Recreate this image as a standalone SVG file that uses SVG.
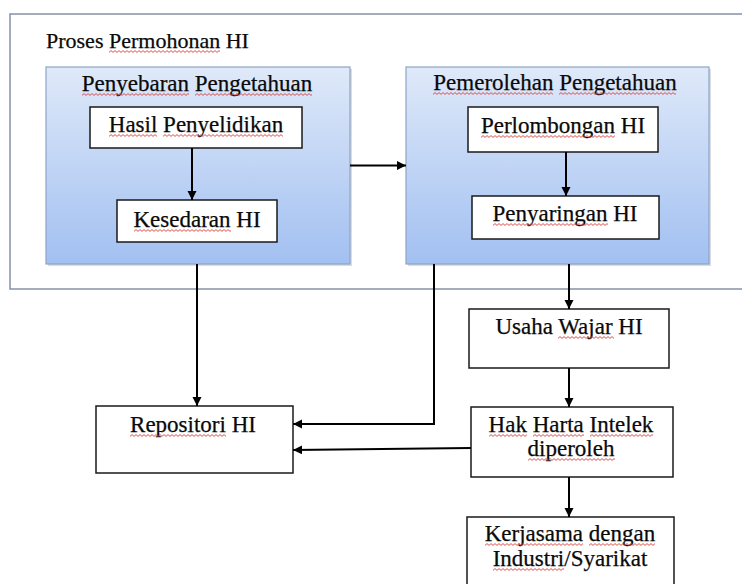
<svg xmlns="http://www.w3.org/2000/svg" width="742" height="584" viewBox="0 0 742 584">
<style>
  text { font-family: "Liberation Serif", "Times New Roman", serif; font-size: 23px; fill: #0a0a0a; stroke: #0a0a0a; stroke-width: 0.25; }
  .c { text-anchor: middle; }
  .frame { fill: #ffffff; stroke: #8593a3; stroke-width: 1.5; }
  .blue { fill: url(#gBlue); stroke: #8ea4c6; stroke-width: 1.2; }
  .shadow { fill: #b9c0cb; opacity: 0.55; }
  .box { fill: #ffffff; stroke: #1a1a1a; stroke-width: 1.5; }
  .conn { fill: none; stroke: #000; stroke-width: 2; marker-end: url(#arr); }
  .sq { fill: url(#wave); }
</style>
<defs>
  <linearGradient id="gBlue" x1="0" y1="0" x2="0" y2="1">
    <stop offset="0" stop-color="#dfe9f9"/>
    <stop offset="1" stop-color="#a2c0f1"/>
  </linearGradient>
  <pattern id="wave" patternUnits="userSpaceOnUse" width="4" height="3">
    <path d="M0,2.4 L2,0.6 L4,2.4" fill="none" stroke="#d8403a" stroke-width="0.9"/>
  </pattern>
  <marker id="arr" markerUnits="userSpaceOnUse" markerWidth="12" markerHeight="12" refX="9" refY="4.5" orient="auto">
    <path d="M0,0 L9,4.5 L0,9 Z" fill="#000"/>
  </marker>
</defs>

<rect width="742" height="584" fill="#ffffff"/>

<g id="proses-permohonan">
  <rect class="frame" x="10" y="14" width="745" height="275"/>
  <text x="46" y="48" style="font-size:22px"><tspan>Proses</tspan> <tspan>Permohonan</tspan> <tspan>HI</tspan></text>
  <rect class="sq" transform="translate(109,50)" width="111" height="3"/>
</g>

<g id="penyebaran-pengetahuan">
  <rect class="shadow" x="48" y="69" width="304" height="197"/>
  <rect class="blue" x="46" y="67" width="304" height="197"/>
  <text class="c" x="197" y="91"><tspan>Penyebaran</tspan> <tspan>Pengetahuan</tspan></text>
  <rect class="sq" transform="translate(82,93)" width="107" height="3"/>
  <rect class="sq" transform="translate(195,93)" width="117" height="3"/>
</g>

<g id="pemerolehan-pengetahuan">
  <rect class="shadow" x="408" y="69" width="303" height="197"/>
  <rect class="blue" x="406" y="67" width="303" height="197"/>
  <text class="c" x="555" y="90"><tspan>Pemerolehan</tspan> <tspan>Pengetahuan</tspan></text>
  <rect class="sq" transform="translate(433,92)" width="120" height="3"/>
  <rect class="sq" transform="translate(559,92)" width="117" height="3"/>
</g>

<g id="hasil-penyelidikan">
  <rect class="box" x="90" y="107" width="212" height="41"/>
  <text class="c" x="196" y="132"><tspan>Hasil</tspan> <tspan>Penyelidikan</tspan></text>
  <rect class="sq" transform="translate(109,134)" width="48" height="3"/>
  <rect class="sq" transform="translate(163,134)" width="120" height="3"/>
</g>

<g id="kesedaran-hi">
  <rect class="box" x="117" y="200" width="160" height="42"/>
  <text class="c" x="197" y="227"><tspan>Kesedaran</tspan> <tspan>HI</tspan></text>
  <rect class="sq" transform="translate(134,229)" width="97" height="3"/>
</g>

<g id="perlombongan-hi">
  <rect class="box" x="468" y="107" width="190" height="45"/>
  <text class="c" x="563" y="133"><tspan>Perlombongan</tspan> <tspan>HI</tspan></text>
  <rect class="sq" transform="translate(481,135)" width="134" height="3"/>
</g>

<g id="penyaringan-hi">
  <rect class="box" x="472" y="196" width="187" height="43"/>
  <text class="c" x="565" y="221"><tspan>Penyaringan</tspan> <tspan>HI</tspan></text>
  <rect class="sq" transform="translate(493,223)" width="115" height="3"/>
</g>

<g id="usaha-wajar-hi">
  <rect class="box" x="469" y="309" width="200" height="59"/>
  <text class="c" x="569" y="334"><tspan>Usaha</tspan> <tspan>Wajar</tspan> <tspan>HI</tspan></text>
  <rect class="sq" transform="translate(558,336)" width="56" height="3"/>
</g>

<g id="hak-harta-intelek">
  <rect class="box" x="471" y="407" width="202" height="70"/>
  <text class="c" x="571" y="432"><tspan>Hak</tspan> <tspan>Harta</tspan> <tspan>Intelek</tspan></text>
  <text class="c" x="571" y="456"><tspan>diperoleh</tspan></text>
  <rect class="sq" transform="translate(489,434)" width="38" height="3"/>
  <rect class="sq" transform="translate(533,434)" width="51" height="3"/>
  <rect class="sq" transform="translate(590,434)" width="63" height="3"/>
  <rect class="sq" transform="translate(528,458)" width="87" height="3"/>
</g>

<g id="kerjasama">
  <rect class="box" x="467" y="517" width="207" height="75"/>
  <text class="c" x="570" y="541"><tspan>Kerjasama</tspan> <tspan>dengan</tspan></text>
  <text class="c" x="570" y="566"><tspan>Industri</tspan><tspan>/Syarikat</tspan></text>
  <rect class="sq" transform="translate(485,543)" width="98" height="3"/>
  <rect class="sq" transform="translate(589,543)" width="66" height="3"/>
  <rect class="sq" transform="translate(493,568)" width="71" height="3"/>
</g>

<g id="repositori-hi">
  <rect class="box" x="96" y="406" width="197" height="67"/>
  <text class="c" x="193" y="432"><tspan>Repositori</tspan> <tspan>HI</tspan></text>
  <rect class="sq" transform="translate(130,434)" width="96" height="3"/>
</g>

<g id="connectors">
  <path class="conn" d="M192,148 L192,200"/>
  <path class="conn" d="M566,152 L566,196"/>
  <path class="conn" d="M350,165.5 L406,165.5"/>
  <path class="conn" d="M197,264 L197,406"/>
  <path class="conn" d="M434,264 L434,424 L293,424"/>
  <path class="conn" d="M471,448 L293,450"/>
  <path class="conn" d="M569,264 L569,309"/>
  <path class="conn" d="M569,368 L569,407"/>
  <path class="conn" d="M569,477 L569,517"/>
</g>
</svg>
